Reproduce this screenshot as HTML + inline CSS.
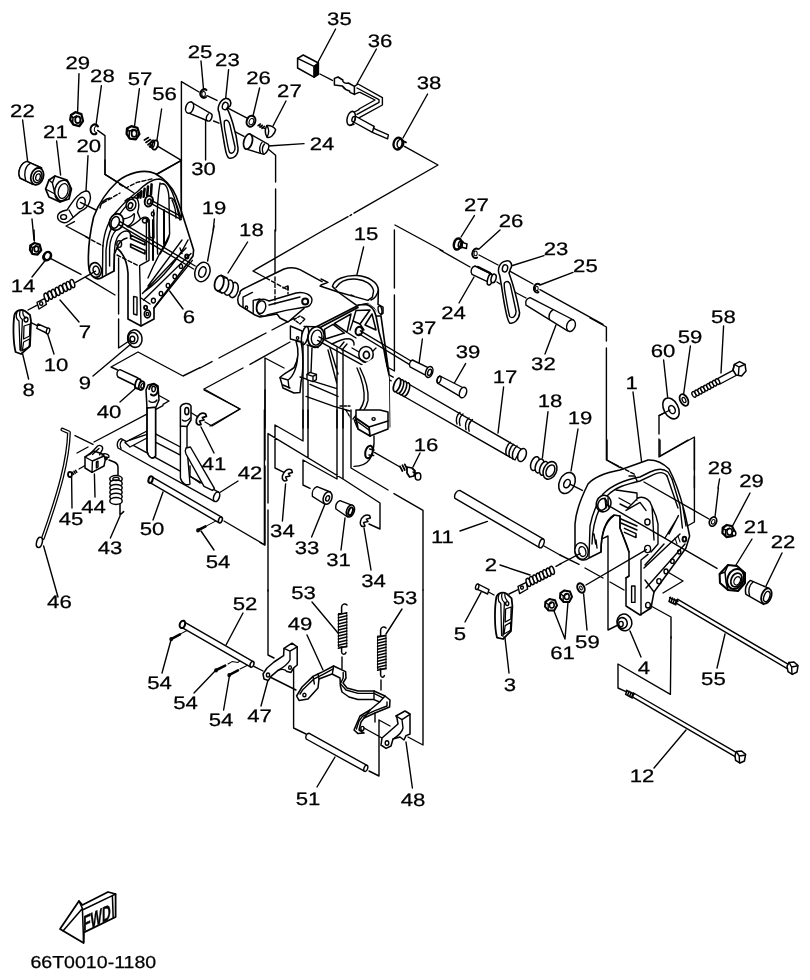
<!DOCTYPE html>
<html><head><meta charset="utf-8"><title>Parts diagram 66T0010-1180</title>
<style>
html,body{margin:0;padding:0;background:#fff}
svg{display:block;will-change:transform;filter:grayscale(1)}
text{-webkit-font-smoothing:antialiased;text-rendering:geometricPrecision;font-family:"Liberation Sans",sans-serif;font-size:18px;fill:#000;stroke:#000;stroke-width:0.25px;text-anchor:middle}
.w{fill:#fff} .k{fill:#000} .n{fill:none}
</style></head><body>
<svg width="810" height="980" viewBox="0 0 810 980" fill="none" stroke="#000" stroke-width="1.4" stroke-linecap="round" stroke-linejoin="round">
<rect x="0" y="0" width="810" height="980" fill="#fff" stroke="none"/>
<g transform="translate(0,40) scale(0.20000)" stroke-width="7.00"><!-- labels -->
<text transform="translate(389.0,144.0) scale(6.150,5)">29</text><text transform="translate(512.0,209.0) scale(6.150,5)">28</text><text transform="translate(700.0,226.0) scale(6.150,5)">57</text>
<text transform="translate(112.0,386.0) scale(6.150,5)">22</text><text transform="translate(277.0,491.0) scale(6.150,5)">21</text><text transform="translate(444.0,562.0) scale(6.150,5)">20</text><text transform="translate(163.0,869.0) scale(6.150,5)">13</text>
<text transform="translate(823.0,299.0) scale(6.150,5)">56</text>
<!-- leaders -->
<path d="M395 168L388 360M507 228L480 425M697 243L672 435M808 345L785 500M113 400L138 605M283 505L303 675M440 578L430 755M160 895L170 1000"/>
<!-- 29 nut -->
<g transform="translate(385,397)"><path class="w" d="M-30 -22L-8 -36L22 -26L30 8L12 34L-18 26L-34 2Z" stroke-width="11.45"/><ellipse cx="4" cy="2" rx="13" ry="17" stroke-width="8.91"/><path d="M-30 -20L-20 -8L-22 22M-20 -8L-2 -18" stroke-width="7.64"/></g>
<!-- 57 nut -->
<g transform="translate(665,465)"><path class="w" d="M-30 -22L-8 -34L22 -26L32 6L14 32L-16 28L-32 4Z" stroke-width="11.45"/><ellipse cx="6" cy="2" rx="13" ry="17" stroke-width="8.91"/><path d="M-30 -20L-18 -8L-20 24M-18 -8L0 -18" stroke-width="7.64"/></g>
<!-- 28 washer -->
<path d="M490 432A20 25 10 1 0 482 468" stroke-width="10.18"/><path d="M490 432A12 16 10 1 0 484 462" stroke-width="5.09"/>
<!-- line from 28 -->
<path d="M488 452L525 478L525 672L592 714"/>
<!-- 56 screw -->
<path d="M722 500L742 488M730 512L752 498M740 524L760 508M748 534L764 522" stroke-width="8.91"/>
<ellipse cx="775" cy="525" rx="14" ry="24" transform="rotate(15 775 525)" class="w" stroke-width="8.91"/>
<ellipse cx="762" cy="520" rx="10" ry="20" transform="rotate(15 762 520)" stroke-width="6.36"/>
<!-- 22 bushing -->
<path class="w" d="M135 607L208 640M100 690L165 722M135 607C105 615 85 655 100 690"/>
<path class="w" d="M135 607L208 640L165 722L100 690C85 655 105 615 135 607Z"/>
<ellipse cx="186" cy="682" rx="31" ry="43" transform="rotate(18 186 682)" class="w" stroke-width="8.91"/>
<ellipse cx="188" cy="684" rx="21" ry="30" transform="rotate(18 188 684)" stroke-width="7.64"/>
<ellipse cx="190" cy="686" rx="11" ry="17" transform="rotate(18 190 686)" stroke-width="6.36"/>
<path d="M150 618C125 632 118 670 128 700"/>
<!-- 21 nut -->
<path class="w" d="M275 680L335 700L357 745L345 795L300 810L245 785L228 745L245 700Z" stroke-width="8.91"/>
<ellipse cx="312" cy="752" rx="38" ry="52" transform="rotate(15 312 752)" stroke-width="7.64"/>
<ellipse cx="316" cy="755" rx="24" ry="38" transform="rotate(15 316 755)" stroke-width="6.36"/>
<path d="M275 680L262 715L275 770L300 810M245 700L262 715M228 745L275 770"/>
<!-- 20 bracket -->
<path class="w" d="M425 756C450 750 458 780 448 810C440 835 420 850 400 858L345 905C320 925 285 905 288 880C290 862 310 855 335 850C350 830 380 770 425 756Z"/>
<ellipse cx="405" cy="815" rx="20" ry="30" transform="rotate(20 405 815)"/>
<ellipse cx="318" cy="885" rx="15" ry="12"/>
<path d="M345 850L365 885"/>
<path d="M402 812L480 850M372 908L330 930L440 988"/>
</g>
<g transform="translate(150,30) scale(0.20000)" stroke-width="7.00"><text transform="translate(250.0,139.0) scale(6.150,5)">25</text><text transform="translate(387.0,182.0) scale(6.150,5)">23</text><text transform="translate(543.0,269.0) scale(6.150,5)">26</text><text transform="translate(697.0,336.0) scale(6.150,5)">27</text>
<text transform="translate(268.0,724.0) scale(6.150,5)">30</text><text transform="translate(320.0,922.0) scale(6.150,5)">19</text>
<path d="M255 155L268 300M393 198L378 345M548 290L515 430M680 355L615 480M278 440L278 650M322 945L316 1000M590 580L770 568"/>
<!-- frame lines -->
<path d="M157 258L157 940M157 258L245 310M285 328L335 352M385 388L488 442M40 582L157 652L30 722M318 455L345 466M400 496L470 532M592 596L628 626L628 760M628 795L628 1005"/>
<!-- 25 washer -->
<path d="M282 300A18 22 10 1 0 280 335" stroke-width="10.18"/><ellipse cx="268" cy="320" rx="9" ry="12" stroke-width="5.09"/>
<!-- 30 pin -->
<path class="w" d="M205 360L305 418C318 425 305 460 290 455L192 414Z"/>
<ellipse class="w" cx="198" cy="388" rx="19" ry="29" transform="rotate(18 198 388)" stroke-width="7.64"/>
<path d="M292 420C282 428 278 445 284 452"/>
<!-- 23 link -->
<path class="w" d="M378 342C400 340 408 360 402 378L385 392C400 420 430 500 440 590C442 625 420 645 395 640C380 635 378 600 370 560C362 510 352 450 345 410C335 395 345 350 378 342Z" stroke-width="7.64"/>
<ellipse cx="376" cy="380" rx="14" ry="19" transform="rotate(15 376 380)"/>
<path d="M372 455C385 445 395 455 400 475L425 585C428 610 410 622 398 612C392 600 385 560 380 530C374 500 368 475 372 455Z"/>
<!-- 26 washer -->
<ellipse cx="505" cy="456" rx="21" ry="28" transform="rotate(20 505 456)" stroke-width="10.18"/><ellipse cx="507" cy="458" rx="11" ry="16" transform="rotate(20 507 458)" stroke-width="5.09"/>
<!-- 27 screw -->
<path d="M540 478L552 470M550 486L562 476M560 492L572 482" stroke-width="7.64"/><path d="M545 478L580 496"/>
<path class="w" d="M585 478C575 490 572 515 585 535C600 545 625 520 628 498C620 485 600 475 585 478Z" stroke-width="7.64"/>
<path d="M585 478C595 495 598 515 585 535"/>
<!-- 24 bushing -->
<path class="w" d="M500 520L592 572C600 585 585 615 570 622L482 596Z"/>
<ellipse class="w" cx="490" cy="558" rx="21" ry="39" transform="rotate(15 490 558)" stroke-width="8.91"/>
<path d="M560 562C548 575 545 600 552 615M572 570C562 582 560 602 566 618" />
</g>
<g transform="translate(290,0) scale(0.20000)" stroke-width="7.00"><text transform="translate(247.0,124.0) scale(6.150,5)">35</text><text transform="translate(450.0,234.0) scale(6.150,5)">36</text><text transform="translate(695.0,444.0) scale(6.150,5)">38</text><text transform="translate(160.0,749.0) scale(6.150,5)">24</text>
<path d="M228 145L135 320M432 245L335 420M688 470L565 690"/>
<path d="M150 370L212 402M572 732L740 825L320 1066M290 1083L170 1150M300 1078L308 1073"/>
<!-- 35 box -->
<path class="w" d="M38 292L66 275L142 315L142 372L120 386L38 340Z" stroke-width="7.64"/>
<path d="M38 292L120 332L142 315M120 332L120 386" stroke-width="7.64"/>
<path class="k" d="M122 333L141 318L141 371L122 384Z"/>
<!-- 36 lever -->
<path class="w" d="M222 392L240 385L264 400C262 410 275 420 292 415L322 432L322 472L300 462L298 455C285 452 270 442 262 430L222 425Z" stroke-width="7.64"/>
<path d="M322 432L340 420L462 488L462 525L340 592M322 472L345 462M335 440L445 498L445 512L335 572M350 462L425 500L345 545"/>
<path class="w" d="M325 580L420 632L418 642L492 674L488 694L412 662L318 610Z"/>
<path d="M420 632L412 662"/>
<ellipse class="w" cx="306" cy="592" rx="20" ry="36" transform="rotate(15 306 592)" stroke-width="7.64"/>
<path d="M322 560L345 548M300 626L320 622"/>
<ellipse cx="318" cy="596" rx="8" ry="14" transform="rotate(15 318 596)"/>
<!-- 38 -->
<ellipse cx="540" cy="718" rx="22" ry="30" transform="rotate(15 540 718)" stroke-width="11.45"/>
<ellipse cx="552" cy="718" rx="16" ry="22" transform="rotate(15 552 718)" stroke-width="7.64"/>
<path d="M565 705L580 712" stroke-width="8.91"/>
</g>
<g transform="translate(60,160) scale(0.20000)" stroke-width="7.00"><text transform="translate(645.0,814.0) scale(6.150,5)">6</text><text transform="translate(125.0,889.0) scale(6.150,5)">7</text>
<path d="M770 330L738 505M615 745L548 655M95 810L0 700"/>
<!-- 19 washer -->
<ellipse class="w" cx="712" cy="560" rx="37" ry="50" transform="rotate(20 712 560)" stroke-width="7.64"/>
<ellipse cx="712" cy="560" rx="17" ry="27" transform="rotate(20 712 560)" stroke-width="7.64"/>
<!-- bracket 6 silhouette fill -->
<path class="w" d="M143 530C138 450 146 380 168 285C190 225 225 165 290 105C340 65 420 42 475 68C525 95 560 135 580 180C610 260 640 360 668 450L665 480L470 740L470 795L405 830L340 795L340 565C335 500 315 465 285 440L272 470L270 555L205 590C185 602 150 590 143 530Z" stroke-width="8.27"/>
<!-- rims -->
<path d="M212 588L214 440C218 370 240 300 290 250C320 215 350 185 385 160C420 125 460 95 495 95C530 100 555 140 570 185C585 230 595 260 605 290"/>
<path d="M230 570L230 450C235 390 250 340 285 290C320 240 360 190 400 160M248 530L248 440C250 400 262 370 282 348"/>
<path d="M200 240C205 215 225 195 250 190" />
<!-- fins -->
<path d="M392 170L388 190M407 156L402 188M423 144L418 184M440 133L436 178M458 122L455 172" stroke-width="12.73"/>
<!-- hidden dashed -->
<path d="M215 215L300 165M298 122L330 140L385 112L470 92M130 385L215 430M285 475L395 530" stroke-dasharray="20 11"/>
<path d="M225 0L225 72L290 112L370 165"/>
<!-- inner opening arch -->
<path d="M270 555L272 470C272 410 290 368 320 357C345 350 352 362 354 382M285 440C295 410 312 395 335 390"/>
<!-- holes -->
<ellipse class="w" cx="282" cy="310" rx="34" ry="42" transform="rotate(20 282 310)" stroke-width="8.91"/><ellipse cx="276" cy="312" rx="20" ry="30" transform="rotate(20 276 312)" stroke-width="7.64"/>
<ellipse class="w" cx="355" cy="225" rx="24" ry="29" transform="rotate(20 355 225)" stroke-width="7.64"/><ellipse cx="352" cy="228" rx="11" ry="15" transform="rotate(20 352 228)" stroke-width="7.64"/>
<path d="M325 205C340 185 370 185 385 192C395 210 395 240 388 262"/>
<ellipse class="w" cx="444" cy="206" rx="20" ry="27" transform="rotate(15 444 206)" stroke-width="10.18"/><ellipse cx="446" cy="208" rx="9" ry="13" transform="rotate(15 446 208)" stroke-width="7.64"/>
<ellipse cx="425" cy="303" rx="13" ry="12"/><ellipse cx="464" cy="270" rx="7" ry="10"/>
<ellipse cx="295" cy="822" rx="0" ry="0"/>
<ellipse cx="296" cy="420" rx="12" ry="17"/>
<ellipse class="w" cx="177" cy="550" rx="30" ry="37" transform="rotate(-15 177 550)" stroke-width="8.27"/><ellipse cx="181" cy="552" rx="15" ry="22" transform="rotate(-15 181 552)" stroke-width="7.64"/>
<!-- Y ribs on face -->
<path d="M318 295C340 290 360 285 368 270C375 262 372 285 368 300C360 320 345 328 335 332M340 335C375 325 395 300 410 290C420 282 440 285 445 300M388 262L400 290M445 300L448 380C450 390 458 392 462 385"/>
<!-- slots -->
<path d="M353 375L425 410L425 425L353 392ZM353 420L425 452L425 470L353 435Z" stroke-width="8.27"/>
<!-- leg -->
<path d="M405 830L398 528L445 502L445 300M405 690L450 720M368 682L385 686L385 775L368 770Z"/>
<!-- web right -->
<path d="M432 300L432 500M500 115C485 200 482 330 488 470M505 120C530 110 545 150 545 200L548 370C545 400 520 440 500 470M545 195C560 180 575 200 585 240L600 300M560 200C575 230 580 260 580 290M548 370C530 420 490 470 440 590M640 400C600 480 520 590 420 660M610 400L440 630M600 440L610 468M412 668L630 440M468 250L470 390" />
<path d="M465 300L465 500M520 250L520 420" stroke-width="10.18"/>
<!-- bottom rail -->
<path d="M418 700L655 468M470 740L662 502"/>
<ellipse cx="467" cy="703" rx="10" ry="12"/><ellipse cx="505" cy="668" rx="9" ry="11"/><ellipse cx="540" cy="628" rx="9" ry="11"/><ellipse cx="574" cy="582" rx="9" ry="11"/><ellipse cx="605" cy="532" rx="8" ry="10"/><ellipse cx="634" cy="482" rx="8" ry="10" stroke-width="10.18"/>
<ellipse cx="437" cy="770" rx="15" ry="19" stroke-width="8.91"/><ellipse cx="437" cy="770" rx="6" ry="8"/><ellipse cx="428" cy="737" rx="8" ry="9" stroke-width="8.91"/>
<!-- axis lines -->
<path d="M605 0L607 290M607 2L485 72M457 202L608 283M452 216L606 298M300 308L676 530M292 322L668 545M293 490L293 770M293 795L293 940L345 905"/>
<!-- 9 grommet -->
<ellipse class="w" cx="374" cy="893" rx="36" ry="44" transform="rotate(-10 374 893)" stroke-width="7.64"/>
<ellipse class="w" cx="366" cy="890" rx="24" ry="28" transform="rotate(-10 366 890)" stroke-width="7.64"/>
<ellipse cx="362" cy="895" rx="12" ry="14"/>
</g>
<g transform="translate(0,230) scale(0.20000)" stroke-width="7.00"><text transform="translate(115.0,309.0) scale(6.150,5)">14</text><text transform="translate(280.0,704.0) scale(6.150,5)">10</text><text transform="translate(143.0,829.0) scale(6.150,5)">8</text><text transform="translate(425.0,794.0) scale(6.150,5)">9</text><text transform="translate(545.0,939.0) scale(6.150,5)">40</text>
<path d="M160 235L228 150M270 620L238 520M143 745L112 615M465 730L655 570M600 860L690 780M170 0L172 55"/>
<!-- 13 nut -->
<g transform="translate(178,95)"><path class="w" d="M-26 -18L-6 -30L20 -22L28 6L10 28L-16 24L-28 4Z" stroke-width="11.45"/><ellipse cx="4" cy="0" rx="11" ry="14" stroke-width="8.91"/><path d="M-26 -16L-16 -6L-18 20M-16 -6L0 -16" stroke-width="7.64"/></g>
<!-- 14 washer -->
<ellipse cx="237" cy="130" rx="17" ry="21" transform="rotate(25 237 130)" stroke-width="12.73"/><path d="M222 120A14 17 25 0 0 240 150" stroke-width="5.09"/>
<!-- lines -->
<path d="M252 142L405 222M430 238L575 325M378 262L478 206M140 400L186 376M132 452L186 478M555 685L588 700M555 685L690 610L915 730L1000 688"/>
<!-- spring 7 -->
<path class="w" d="M185 362L225 342L232 372L195 395Z"/><ellipse cx="206" cy="368" rx="8" ry="9"/>
<ellipse class="w" cx="232" cy="336" rx="10" ry="21" transform="rotate(-18 232 336)" stroke-width="7.64"/><ellipse class="w" cx="251" cy="326" rx="10" ry="21" transform="rotate(-18 251 326)" stroke-width="7.64"/><ellipse class="w" cx="269" cy="317" rx="10" ry="21" transform="rotate(-18 269 317)" stroke-width="7.64"/><ellipse class="w" cx="288" cy="307" rx="10" ry="21" transform="rotate(-18 288 307)" stroke-width="7.64"/><ellipse class="w" cx="306" cy="297" rx="10" ry="21" transform="rotate(-18 306 297)" stroke-width="7.64"/><ellipse class="w" cx="325" cy="287" rx="10" ry="21" transform="rotate(-18 325 287)" stroke-width="7.64"/><ellipse class="w" cx="343" cy="278" rx="10" ry="21" transform="rotate(-18 343 278)" stroke-width="7.64"/><ellipse class="w" cx="362" cy="268" rx="10" ry="21" transform="rotate(-18 362 268)" stroke-width="7.64"/>
<!-- 8 -->
<path class="w" d="M72 425C80 400 105 395 125 405L150 425L155 455L150 580L105 620L78 610C65 560 65 470 72 425Z" stroke-width="8.91"/>
<path d="M85 410C78 430 80 445 95 455L100 600M100 405C95 425 100 440 112 448M115 402C112 420 118 432 128 440M112 448L105 605M120 480L150 470L148 530L118 545ZM118 560L148 545L146 585L112 602Z" stroke-width="6.36"/>
<ellipse cx="130" cy="448" rx="10" ry="12"/>
<!-- 10 pin -->
<path class="w" d="M190 470L240 492L232 515L184 492Z"/><ellipse class="w" cx="240" cy="505" rx="8" ry="15" transform="rotate(15 240 505)"/>
<!-- 40 pin -->
<path class="w" d="M600 698L690 740L690 760L720 775L705 800L675 790L672 775L590 735C580 720 585 700 600 698Z"/>
<ellipse class="w" cx="690" cy="768" rx="13" ry="24" transform="rotate(15 690 768)" stroke-width="8.91"/>
<ellipse class="w" cx="708" cy="778" rx="13" ry="22" transform="rotate(15 708 778)" stroke-width="8.91"/>
<ellipse cx="712" cy="780" rx="7" ry="12" transform="rotate(15 712 780)"/>
</g>
<g transform="translate(200,230) scale(0.20000)" stroke-width="7.00"><text transform="translate(257.0,32.0) scale(6.150,5)">18</text>
<path d="M238 60L140 215"/>
<!-- 18 bushing -->
<path class="w" d="M100 228L175 262L165 338L88 303Z" stroke="none"/>
<ellipse class="w" cx="168" cy="300" rx="22" ry="39" transform="rotate(15 168 300)" stroke-width="7.64"/>
<ellipse class="w" cx="143" cy="288" rx="22" ry="39" transform="rotate(15 143 288)" stroke-width="7.64"/>
<ellipse class="w" cx="120" cy="277" rx="22" ry="39" transform="rotate(15 120 277)" stroke-width="7.64"/>
<ellipse class="w" cx="96" cy="266" rx="22" ry="39" transform="rotate(15 96 266)" stroke-width="8.91"/>
<path d="M105 226L135 240M88 305L110 315"/>
<!-- lines -->
<path d="M265 205L620 0M265 205L330 240M375 0L375 235M0 690L60 658M95 640L330 515M360 500L470 442M20 795L215 690M250 672L450 560M20 795L200 895L50 980M325 640L325 990M325 640L420 690"/>
<!-- 15 arm -->
<path class="w" d="M200 318C195 300 215 295 230 288L420 195C450 185 480 188 500 198L660 285L640 330L560 350L520 392L440 460L400 440L385 420L300 435L275 425L200 378C185 365 185 335 200 318Z" stroke="none"/>
<path d="M610 258L500 198C480 188 450 185 420 195L230 288C215 295 195 300 200 318C185 335 185 365 200 378L275 425L300 435L385 420L400 440L440 460L520 392" stroke-width="7.64"/>
<path d="M215 336L262 312M215 336L215 385M266 352L266 418M266 352L300 345"/>
<ellipse cx="232" cy="388" rx="6" ry="8"/>
<path class="w" d="M300 350C320 340 335 352 345 355L480 315C520 305 560 325 560 350C560 375 540 388 520 386L430 402L335 425C310 440 280 420 282 385C283 370 290 355 300 350Z"/>
<ellipse cx="306" cy="386" rx="22" ry="32" transform="rotate(15 306 386)"/>
<ellipse cx="526" cy="358" rx="15" ry="15" stroke-width="10.18"/>
<path d="M345 375L500 335"/>
<path d="M470 448L500 430L525 445L500 470ZM440 300L440 280L415 290" stroke-dasharray="14 8"/>
<path d="M330 240L440 300M375 235L375 370M440 280L440 320" stroke-dasharray="20 12"/>
<!-- bracket left block and hook -->
<path class="w" d="M452 480L510 505L510 560L452 545Z"/><ellipse cx="488" cy="540" rx="6" ry="7"/>
<path class="w" d="M480 555C495 600 492 650 470 688C450 705 420 715 400 738L415 790L470 815L500 812L505 760C520 700 515 600 505 560Z" stroke-width="7.64"/>
<path d="M400 738L440 750L445 790M440 750C470 730 485 680 488 640M415 775L450 790"/>
</g>
<g transform="translate(280,230) scale(0.20000)" stroke-width="7.00"><text transform="translate(430.0,49.0) scale(6.150,5)">15</text><text transform="translate(720.0,519.0) scale(6.150,5)">37</text>
<path d="M418 85L385 222M712 545L695 668"/>
<!-- frame lines -->
<path d="M572 0L572 290M572 325L572 705L442 632M575 -25L815 105"/>
<!-- top ring -->
<path class="w" d="M262 282C270 245 330 225 385 228C440 232 490 260 492 300L490 372L515 386L515 416L495 432L470 392L440 368L385 378L290 310Z" stroke-width="7.64"/>
<path d="M280 288C300 255 340 242 385 246C425 250 462 272 468 305L462 335M492 300C485 330 470 345 455 350M200 280C230 290 260 300 290 310L440 352M205 275L240 262L205 245M355 325L372 332M440 352L462 335"/>
<ellipse cx="500" cy="400" rx="9" ry="20" transform="rotate(-10 500 400)"/>
<!-- body fill -->
<path class="w" d="M150 490L385 378L445 368L470 392L505 430L548 720L548 990L120 990L120 560Z" stroke="none"/>
<!-- triangular web -->
<path d="M180 485L395 375L430 372C450 376 470 392 480 430L495 510L520 600L545 740L548 985M205 485L390 387M505 430L545 720M480 430L505 430" stroke-width="8.27"/>
<path d="M222 497L265 472L322 515L227 545ZM272 467L355 420L335 512ZM380 402L450 400L400 470L365 455ZM460 420L480 500L425 475Z" stroke-width="7.64"/>
<path d="M260 570C290 555 330 540 350 545C365 550 372 560 370 575M300 585L320 560M310 600L335 570M365 455L350 500M400 470L420 500M340 515L380 540"/>
<!-- holes -->
<ellipse class="w" cx="125" cy="528" rx="16" ry="46" transform="rotate(12 125 528)" stroke-width="7.64"/>
<ellipse class="w" cx="180" cy="535" rx="40" ry="52" transform="rotate(12 180 535)" stroke-width="8.91"/>
<ellipse cx="183" cy="538" rx="26" ry="38" transform="rotate(12 183 538)"/>
<path d="M120 482L175 484M135 575L190 588"/>
<ellipse class="w" cx="395" cy="505" rx="17" ry="21" transform="rotate(15 395 505)" stroke-width="10.18"/>
<ellipse class="w" cx="430" cy="622" rx="36" ry="40" stroke-width="7.64"/><ellipse cx="432" cy="625" rx="15" ry="18" stroke-width="8.91"/>
<path d="M395 610L360 590M465 605L480 590"/>
<!-- axis lines -->
<path d="M195 534L566 736M188 552L556 754M402 504L655 655M396 520L646 672"/>
<!-- 37 pin -->
<path class="w" d="M662 650L748 692L732 728L650 684C645 670 650 655 662 650Z"/>
<ellipse class="w" cx="746" cy="710" rx="17" ry="28" transform="rotate(20 746 710)" stroke-width="7.64"/><ellipse cx="748" cy="712" rx="9" ry="16" transform="rotate(20 748 712)"/>
<!-- lower body -->
<path d="M115 560L115 990M140 580L140 990M285 590L285 990M315 600L315 990M100 735L140 748L280 792M150 772L290 832M130 832L270 882L350 905M240 600L285 770M250 590L290 720"/>
<path class="w" d="M135 722L150 712L182 722L182 748L165 758L135 748Z"/><path d="M135 722L165 732L182 722M165 732L165 758"/>
<path d="M160 590L155 712"/>
<!-- right hook -->
<path class="w" d="M385 690C410 740 425 800 420 850C410 890 385 920 365 950L385 990L548 990L545 740L520 640L470 640Z" stroke="none"/>
<path d="M400 690C430 750 445 800 440 852C430 900 400 930 372 952L385 985M385 690C412 750 425 800 420 850C412 890 390 915 365 945M375 950L440 985"/>
<ellipse cx="468" cy="945" rx="8" ry="6"/>
<path d="M300 880L350 880M330 900L350 935" stroke-dasharray="12 8"/>
</g>
<g transform="translate(440,180) scale(0.20000)" stroke-width="7.00"><text transform="translate(182.0,154.0) scale(6.150,5)">27</text><text transform="translate(355.0,234.0) scale(6.150,5)">26</text><text transform="translate(580.0,376.0) scale(6.150,5)">23</text><text transform="translate(727.0,459.0) scale(6.150,5)">25</text><text transform="translate(68.0,696.0) scale(6.150,5)">24</text><text transform="translate(140.0,892.0) scale(6.150,5)">39</text><text transform="translate(517.0,949.0) scale(6.150,5)">32</text>
<path d="M172 178L105 285M300 250L195 345M520 378L355 430M665 462L500 525M95 615L170 485M525 870L580 725"/>
<path d="M0 350L150 435M195 375L290 425M342 452L465 520M500 548L815 722M285 510L300 520M345 545L430 590"/>
<!-- 27 screw -->
<ellipse cx="88" cy="320" rx="18" ry="28" transform="rotate(15 88 320)" stroke-width="12.73"/><ellipse cx="104" cy="322" rx="12" ry="18" transform="rotate(15 104 322)" stroke-width="7.64"/>
<path class="w" d="M112 312L135 320L132 342L110 336Z" stroke-width="7.64"/>
<!-- 26 washer -->
<path d="M190 345A18 24 15 1 0 185 388" stroke-width="10.18"/><ellipse cx="178" cy="367" rx="8" ry="12" stroke-width="5.09"/>
<!-- 24 bushing -->
<path class="w" d="M175 430L258 470L245 512L160 472C150 455 158 435 175 430Z"/>
<path d="M190 435L250 465" stroke-width="11.45"/>
<ellipse class="w" cx="250" cy="498" rx="12" ry="28" transform="rotate(15 250 498)" stroke-width="7.64"/>
<ellipse class="w" cx="268" cy="492" rx="12" ry="22" transform="rotate(15 268 492)" stroke-width="7.64"/>
<!-- 23 link -->
<path class="w" d="M330 405C355 400 365 425 352 445L345 465C365 520 390 620 398 665C395 700 370 720 348 715C335 700 330 660 320 610C312 560 305 510 298 475C285 450 295 410 330 405Z" stroke-width="7.64"/>
<ellipse cx="325" cy="442" rx="13" ry="18" transform="rotate(15 325 442)"/>
<path d="M322 515C335 500 348 510 352 525L380 655C382 685 360 695 348 682C340 650 335 620 330 590C325 560 318 535 322 515Z"/>
<!-- 25 washer -->
<path d="M498 522A17 22 15 1 0 492 560" stroke-width="10.18"/><ellipse cx="484" cy="542" rx="7" ry="11" stroke-width="5.09"/>
<!-- 32 pin -->
<path class="w" d="M450 588L668 700L638 754L430 626C425 605 435 592 450 588Z"/>
<ellipse class="w" cx="655" cy="728" rx="21" ry="30" transform="rotate(20 655 728)"/>
<path d="M565 648C548 660 542 680 548 698"/>
</g>
<g transform="translate(420,330) scale(0.20000)" stroke-width="7.00"><text transform="translate(112.0,1064.0) scale(6.150,5)">11</text>
<text transform="translate(425.0,266.0) scale(6.150,5)">17</text><text transform="translate(650.0,384.0) scale(6.150,5)">18</text><text transform="translate(800.0,469.0) scale(6.150,5)">19</text>
<path d="M228 168L172 265M418 285L390 515M640 408L612 640M790 495L755 705"/>
<!-- 39 pin -->
<path class="w" d="M100 230L218 290L200 332L88 266C82 250 88 235 100 230Z"/>
<ellipse cx="95" cy="248" rx="9" ry="17" transform="rotate(20 95 248)"/>
<ellipse class="w" cx="215" cy="313" rx="17" ry="27" transform="rotate(20 215 313)" stroke-width="7.64"/>
<!-- 17 tube -->
<path class="w" d="M-100 245L505 595L475 650L-110 315Z"/>
<ellipse class="w" cx="-70" cy="298" rx="15" ry="36" transform="rotate(20 -70 298)" stroke-width="7.64"/>
<ellipse class="w" cx="-85" cy="290" rx="15" ry="36" transform="rotate(20 -85 290)" stroke-width="7.64"/>
<ellipse class="w" cx="-100" cy="283" rx="15" ry="36" transform="rotate(20 -100 283)" stroke-width="7.64"/>
<ellipse class="w" cx="-115" cy="275" rx="15" ry="36" transform="rotate(20 -115 275)" stroke-width="8.91"/>
<path d="M200 412C182 425 178 450 185 470M215 420C198 434 194 458 200 478M245 440C228 452 224 478 230 498M262 448C245 462 240 486 246 506"/>
<path d="M452 562C432 575 425 605 432 625M468 572C448 585 441 615 448 635M485 580C465 595 458 622 465 645" stroke-width="7.64"/>
<ellipse class="w" cx="510" cy="625" rx="20" ry="34" transform="rotate(20 510 625)" stroke-width="7.64"/>
<!-- 18 bushing -->
<ellipse class="w" cx="575" cy="668" rx="20" ry="36" transform="rotate(20 575 668)" stroke-width="7.64"/>
<ellipse class="w" cx="598" cy="680" rx="20" ry="36" transform="rotate(20 598 680)" stroke-width="7.64"/>
<ellipse class="w" cx="620" cy="692" rx="20" ry="36" transform="rotate(20 620 692)" stroke-width="7.64"/>
<ellipse class="w" cx="650" cy="702" rx="32" ry="46" transform="rotate(25 650 702)" stroke-width="7.64"/>
<ellipse cx="652" cy="704" rx="20" ry="31" transform="rotate(25 652 704)" stroke-width="7.64"/>
<!-- 19 washer -->
<ellipse class="w" cx="735" cy="765" rx="38" ry="55" transform="rotate(25 735 765)" stroke-width="7.64"/>
<ellipse cx="735" cy="768" rx="15" ry="22" transform="rotate(25 735 768)" stroke-width="7.64"/>
<path d="M752 772L812 802"/>
<!-- 11 rod -->
<path class="w" d="M199 802L618 1046L598 1088L175 842C168 825 182 802 199 802Z"/>
<path d="M200 1005L337 957"/>
<ellipse class="w" cx="608" cy="1067" rx="11" ry="23" transform="rotate(20 608 1067)"/>
</g>
<g transform="translate(590,290) scale(0.20000)" stroke-width="7.00"><text transform="translate(667.0,164.0) scale(6.150,5)">58</text><text transform="translate(500.0,264.0) scale(6.150,5)">59</text><text transform="translate(365.0,337.0) scale(6.150,5)">60</text><text transform="translate(208.0,494.0) scale(6.150,5)">1</text><text transform="translate(650.0,922.0) scale(6.150,5)">28</text>
<path d="M668 180L655 415M502 280L468 520M368 350L388 535M215 510L258 860M648 945L640 990"/>
<path d="M0 140L82 185L82 255M82 290L82 850L150 888M345 628L400 600M345 628L345 720M345 745L345 835L522 735L522 900M522 930L522 990"/>
<path d="M170 900L235 932" stroke-dasharray="20 10"/>
<!-- 60 -->
<ellipse class="w" cx="405" cy="592" rx="36" ry="56" transform="rotate(-28 405 592)" stroke-width="7.64"/>
<ellipse cx="410" cy="598" rx="15" ry="21" transform="rotate(-28 410 598)" stroke-width="7.64"/>
<path d="M345 628L400 600"/>
<!-- 59 -->
<ellipse class="w" cx="470" cy="550" rx="19" ry="31" transform="rotate(-28 470 550)" stroke-width="8.91"/>
<ellipse cx="470" cy="550" rx="8" ry="14" transform="rotate(-28 470 550)" stroke-width="6.36"/>
<!-- 58 bolt -->
<path class="w" d="M640 442L722 398L735 425L650 470Z"/>
<ellipse class="w" cx="520" cy="522" rx="9" ry="15" transform="rotate(-28 520 522)"/><ellipse class="w" cx="535" cy="514" rx="9" ry="15" transform="rotate(-28 535 514)"/><ellipse class="w" cx="550" cy="506" rx="9" ry="15" transform="rotate(-28 550 506)"/><ellipse class="w" cx="564" cy="498" rx="9" ry="15" transform="rotate(-28 564 498)"/><ellipse class="w" cx="579" cy="490" rx="9" ry="15" transform="rotate(-28 579 490)"/><ellipse class="w" cx="594" cy="482" rx="9" ry="15" transform="rotate(-28 594 482)"/><ellipse class="w" cx="608" cy="474" rx="9" ry="15" transform="rotate(-28 608 474)"/><ellipse class="w" cx="623" cy="466" rx="9" ry="15" transform="rotate(-28 623 466)"/><ellipse class="w" cx="638" cy="458" rx="9" ry="15" transform="rotate(-28 638 458)"/>
<path class="w" d="M722 372L748 358L775 372L780 405L758 430L730 425L715 400Z" stroke-width="7.64"/>
<path d="M722 372L745 385L775 372M745 385L742 425M715 400L722 372"/>
</g>
<g transform="translate(560,440) scale(0.20000)" stroke-width="7.00"><!-- frame lines -->
<path d="M235 0L235 100L292 130M500 0L500 80L640 0M672 0L672 410L510 500M530 655L615 705L515 765M455 830L555 885L555 990M0 575L95 622M125 640L215 690M250 710L320 750M240 480L240 950L300 920M215 492L240 480"/>
<!-- bracket 1 silhouette -->
<path class="w" d="M75 560L75 420C78 370 95 310 140 220C170 185 220 165 300 150L440 100C480 98 520 120 545 145C585 220 620 340 640 440L648 480L630 540L470 760L455 840L400 875L330 830L330 690L345 680L345 560L300 440L300 380L270 375C230 400 205 450 205 560L145 590C120 610 80 600 75 560Z" stroke-width="7.64"/>
<!-- top band -->
<path d="M145 585L150 430C160 380 180 320 215 270C260 225 320 200 400 185L450 160C480 145 515 140 540 160L560 195M160 520C162 440 180 350 240 275C280 235 330 222 400 205L470 172C495 160 520 160 535 180M345 180L375 180L385 205M180 500L185 540M170 470L178 520"/>
<path d="M300 135L380 175" stroke-dasharray="20 10"/>
<!-- inner arch and leg -->
<path d="M205 560C205 470 225 410 270 378M300 380L300 440L332 520L345 560M405 875L405 600L440 572M345 680L330 690M358 730L375 730L375 812L358 812Z"/>
<path d="M280 250L385 265L385 300M300 320L340 340L390 290C410 280 435 290 450 310L480 380L490 420L490 520L455 560M330 352L400 312L430 352M295 290L350 320M460 330L470 500"/>
<path d="M305 395L385 430M305 415L385 450M322 442L380 468L380 488L322 462" stroke-width="7.64"/>
<!-- holes -->
<ellipse class="w" cx="218" cy="318" rx="36" ry="42" transform="rotate(20 218 318)" stroke-width="7.64"/>
<ellipse cx="212" cy="322" rx="22" ry="30" transform="rotate(20 212 322)" stroke-width="7.64"/>
<path d="M225 290L230 340M240 290L242 335"/>
<ellipse class="w" cx="108" cy="555" rx="33" ry="42" transform="rotate(-15 108 555)" stroke-width="7.64"/><ellipse cx="112" cy="558" rx="17" ry="25" transform="rotate(-15 112 558)"/>
<ellipse cx="437" cy="410" rx="13" ry="15"/><ellipse cx="438" cy="545" rx="15" ry="18"/><ellipse cx="440" cy="826" rx="12" ry="14"/>
<!-- web/rail -->
<path d="M420 640L600 470M425 700L470 760M430 740L625 520M545 470L592 378M525 490L580 400M425 625L520 520M600 330L612 440M615 340L630 430M560 195L600 330M535 180L590 340"/>
<ellipse cx="495" cy="706" rx="11" ry="13"/><ellipse cx="530" cy="657" rx="10" ry="12"/><ellipse cx="562" cy="606" rx="9" ry="11"/><ellipse cx="596" cy="560" rx="8" ry="10"/><ellipse cx="622" cy="496" rx="9" ry="12" stroke-width="10.18"/>
<path d="M575 490L585 520M590 480L600 510" stroke-width="5.09"/>
<!-- axis lines -->
<path d="M420 210L745 395M232 322L785 642M0 620L100 568M130 725L432 548"/>
<!-- 59 washer -->
<ellipse class="w" cx="105" cy="740" rx="17" ry="25" transform="rotate(-25 105 740)" stroke-width="10.18"/><ellipse cx="105" cy="740" rx="6" ry="10" transform="rotate(-25 105 740)" stroke-width="5.09"/>
<!-- 28 washer -->
<ellipse class="w" cx="765" cy="408" rx="17" ry="24" transform="rotate(25 765 408)" stroke-width="8.91"/><ellipse cx="766" cy="409" rx="8" ry="12" transform="rotate(25 766 409)" stroke-width="5.09"/>
<!-- 4 grommet -->
<ellipse class="w" cx="322" cy="912" rx="37" ry="42" transform="rotate(-15 322 912)" stroke-width="7.64"/>
<ellipse class="w" cx="312" cy="915" rx="24" ry="27" transform="rotate(-15 312 915)" stroke-width="7.64"/><ellipse cx="305" cy="920" rx="11" ry="13"/>
<!-- leaders -->
<path d="M118 770L135 950"/>
</g>
<g transform="translate(648,450) scale(0.20000)" stroke-width="7.00"><text transform="translate(518.0,186.0) scale(6.150,5)">29</text><text transform="translate(540.0,414.0) scale(6.150,5)">21</text><text transform="translate(675.0,491.0) scale(6.150,5)">22</text>
<path d="M352 190L335 335M510 215L420 385M520 445L440 575M670 515L590 680"/>
<!-- 29 nut -->
<g transform="translate(402,405)"><path class="w" d="M-28 -16L-8 -30L18 -24L30 0L20 26L-10 30L-30 10Z" stroke-width="11.45"/><ellipse cx="6" cy="4" rx="13" ry="16" stroke-width="7.64"/><path d="M-28 -14L-14 -4L-14 26M-14 -4L6 -14" stroke-width="7.64"/><ellipse class="w" cx="28" cy="12" rx="9" ry="12" stroke-width="7.64"/></g>
<!-- 21 nut -->
<path class="w" d="M400 575L445 580L485 615L485 665L450 705L400 700L360 665L358 620Z" stroke-width="10.18"/>
<ellipse cx="438" cy="645" rx="40" ry="52" transform="rotate(25 438 645)" stroke-width="10.18"/>
<ellipse cx="442" cy="650" rx="26" ry="36" transform="rotate(25 442 650)" stroke-width="8.91"/>
<ellipse cx="446" cy="654" rx="15" ry="22" transform="rotate(25 446 654)" stroke-width="6.36"/>
<path d="M400 575L385 610L390 660L400 700M358 620L385 610" stroke-width="7.64"/>
<!-- 22 bushing -->
<path class="w" d="M512 652L605 692L578 772L490 722C482 695 492 665 512 652Z" stroke-width="7.64"/>
<ellipse class="w" cx="592" cy="730" rx="24" ry="40" transform="rotate(20 592 730)" stroke-width="8.91"/>
<ellipse cx="594" cy="733" rx="14" ry="27" transform="rotate(20 594 733)"/>
<path d="M525 660C505 675 500 705 508 728"/>
</g>
<g transform="translate(600,580) scale(0.20000)" stroke-width="7.00"><text transform="translate(220.0,469.0) scale(6.150,5)">4</text><text transform="translate(567.0,524.0) scale(6.150,5)">55</text><text transform="translate(210.0,1009.0) scale(6.150,5)">12</text>
<path d="M205 385L150 255M585 440L625 270M430 750L270 940"/>
<path d="M355 285L352 572L90 420L90 540L130 558"/>
<!-- bolt 55 -->
<path class="w" d="M387 96L942 422L938 444L383 117Z"/>
<path d="M352 86L345 108M362 90L355 114M372 95L365 118M382 100L375 122M348 88L390 106M345 108L380 124" stroke-width="7.64"/>
<path class="w" d="M945 412L970 410L990 428L985 460L962 472L940 458L935 432Z" stroke-width="7.64"/>
<path d="M945 412L958 435L985 430M958 435L960 470"/>
<!-- bolt 12 -->
<path class="w" d="M168 565L685 864L680 886L164 586Z"/>
<path d="M135 552L128 572M145 556L138 578M155 562L148 584M165 566L158 588M132 552L172 570M128 572L162 590" stroke-width="7.64"/>
<path class="w" d="M682 858L708 855L728 872L722 905L700 915L678 902L675 878Z" stroke-width="7.64"/>
<path d="M682 858L696 880L722 876M696 880L698 914"/>
</g>
<g transform="translate(440,540) scale(0.20000)" stroke-width="7.00"><text transform="translate(255.0,154.0) scale(6.150,5)">2</text><text transform="translate(100.0,499.0) scale(6.150,5)">5</text><text transform="translate(350.0,754.0) scale(6.150,5)">3</text><text transform="translate(613.0,594.0) scale(6.150,5)">61</text><text transform="translate(737.0,539.0) scale(6.150,5)">59</text>
<path d="M300 125L450 175M125 410L205 262M345 665L325 490M625 495L570 355M625 495L640 310"/>
<path d="M520 30L600 75M580 132L605 118M345 270L390 248M215 245L270 275"/>
<!-- 61 nuts -->
<g transform="translate(555,325)"><path class="w" d="M-28 -16L-8 -30L20 -24L30 2L16 28L-12 28L-30 8Z" stroke-width="10.18"/><ellipse cx="4" cy="0" rx="12" ry="15" stroke-width="7.64"/><path d="M-28 -14L-14 -2L-14 26M-14 -2L6 -12" stroke-width="6.36"/></g>
<g transform="translate(630,282)"><path class="w" d="M-28 -16L-8 -30L20 -24L30 2L16 28L-12 28L-30 8Z" stroke-width="10.18"/><ellipse cx="4" cy="0" rx="12" ry="15" stroke-width="7.64"/><path d="M-28 -14L-14 -2L-14 26M-14 -2L6 -12" stroke-width="6.36"/></g>
<!-- spring 2 -->
<path class="w" d="M390 232L432 212L438 245L398 268Z"/><ellipse cx="410" cy="238" rx="7" ry="8"/>
<ellipse class="w" cx="442" cy="212" rx="10" ry="21" transform="rotate(-18 442 212)" stroke-width="7.64"/><ellipse class="w" cx="459" cy="203" rx="10" ry="21" transform="rotate(-18 459 203)" stroke-width="7.64"/><ellipse class="w" cx="476" cy="195" rx="10" ry="21" transform="rotate(-18 476 195)" stroke-width="7.64"/><ellipse class="w" cx="493" cy="186" rx="10" ry="21" transform="rotate(-18 493 186)" stroke-width="7.64"/><ellipse class="w" cx="509" cy="178" rx="10" ry="21" transform="rotate(-18 509 178)" stroke-width="7.64"/><ellipse class="w" cx="526" cy="169" rx="10" ry="21" transform="rotate(-18 526 169)" stroke-width="7.64"/><ellipse class="w" cx="543" cy="161" rx="10" ry="21" transform="rotate(-18 543 161)" stroke-width="7.64"/><ellipse class="w" cx="560" cy="152" rx="10" ry="21" transform="rotate(-18 560 152)" stroke-width="7.64"/>
<!-- 3 -->
<path class="w" d="M282 285C290 262 315 258 335 270L358 292L362 330L355 455L315 495L285 488C272 440 272 340 282 285Z" stroke-width="8.91"/>
<path d="M295 272C288 292 290 308 304 318L308 478M310 268C305 288 310 302 322 312M325 268C322 284 328 296 336 304M322 312L315 482M328 345L356 335L354 395L326 410ZM326 428L354 412L352 452L320 470Z" stroke-width="6.36"/>
<ellipse cx="336" cy="318" rx="8" ry="10"/>
<!-- 5 pin -->
<path class="w" d="M190 220L245 248L238 270L182 244Z"/><ellipse class="w" cx="186" cy="234" rx="8" ry="14" transform="rotate(15 186 234)"/>
</g>
<g transform="translate(260,410) scale(0.20000)" stroke-width="7.00"><text transform="translate(112.0,634.0) scale(6.150,5)">34</text><text transform="translate(235.0,719.0) scale(6.150,5)">33</text><text transform="translate(393.0,779.0) scale(6.150,5)">31</text><text transform="translate(568.0,884.0) scale(6.150,5)">34</text><text transform="translate(218.0,944.0) scale(6.150,5)">53</text><text transform="translate(725.0,972.0) scale(6.150,5)">53</text><text transform="translate(830.0,207.0) scale(6.150,5)">16</text>
<path d="M128 370L112 555M325 470L258 635M425 540L405 700M520 590L555 800M800 215L765 285"/>
<path d="M40 118L40 465M40 500L40 905M22 0L22 675L0 662M40 118L415 345L600 465L600 595L545 570M75 75L215 155L215 0M75 75L75 290L120 312M240 0L240 235M215 250L385 345L385 0M215 250L215 375L250 392M415 0L415 345M455 0L455 290L640 400M670 418L815 502L815 900M572 212L700 285"/>
<path d="M470 282C540 280 575 240 570 130"/>
<!-- 16 hole -->
<ellipse cx="545" cy="210" rx="18" ry="32" transform="rotate(15 545 210)" stroke-width="10.18"/><path d="M548 195L570 200M545 225L568 228" stroke-width="7.64"/>
<!-- 16 nipple -->
<path d="M700 282L712 305M712 276L724 300M724 272L736 296" stroke-width="8.91"/>
<path class="w" d="M735 285L760 290L775 305L770 330L748 335L735 315Z" stroke-width="8.91"/>
<ellipse class="w" cx="790" cy="332" rx="14" ry="18" stroke-width="7.64"/><path d="M765 310L785 318"/>
<!-- clips 34 -->
<path d="M158 300C140 290 118 305 112 330C108 350 120 360 135 352M135 352L128 335L150 330L142 318L162 312L158 300" stroke-width="7.64"/>
<path d="M548 528C530 518 508 533 502 558C498 578 510 588 525 580M525 580L518 563L540 558L532 546L552 540L548 528" stroke-width="7.64"/>
<!-- 33 -->
<path class="w" d="M285 383L352 410L322 470L262 432C258 410 268 390 285 383Z"/>
<ellipse class="w" cx="338" cy="440" rx="21" ry="32" transform="rotate(20 338 440)" stroke-width="7.64"/><ellipse cx="338" cy="442" rx="9" ry="14" transform="rotate(20 338 442)"/>
<!-- 31 -->
<path class="w" d="M400 453L465 478L438 535L380 495C375 475 385 458 400 453Z"/>
<ellipse class="w" cx="452" cy="505" rx="19" ry="31" transform="rotate(20 452 505)" stroke-width="7.64"/><ellipse cx="453" cy="507" rx="10" ry="20" transform="rotate(20 453 507)" stroke-width="10.18"/>
<!-- 15 foot -->
<path class="w" d="M480 40L545 85L550 130L490 95Z" stroke-width="8.91"/><path class="w" d="M545 85L640 55L640 10L600 0L480 0L480 40Z" stroke-width="7.64"/>
<path d="M550 130L640 95L640 55M490 60L545 100" stroke-width="7.64"/><ellipse cx="568" cy="45" rx="8" ry="7"/>
</g>
<g transform="translate(270,590) scale(0.20000)" stroke-width="7.00"><text transform="translate(190.0,1074.0) scale(6.150,5)">51</text><text transform="translate(715.0,1079.0) scale(6.150,5)">48</text>
<text transform="translate(150.0,202.0) scale(6.150,5)">49</text>
<path d="M210 60L340 215M660 95L580 220M185 225L265 400M325 835L235 985M680 760L712 990"/>
<path d="M118 310L118 690L180 720M0 435L130 500M765 0L765 775L690 735M470 690L560 740M545 650L545 930L495 905M545 650L600 680M360 335L360 395M555 450L555 500"/>
<rect class="w" x="342.0" y="118" width="42" height="167" stroke-width="5.09"/><path d="M342.0 124L384.0 114M342.0 139L384.0 129M342.0 154L384.0 144M342.0 170L384.0 160M342.0 185L384.0 175M342.0 200L384.0 190M342.0 215L384.0 205M342.0 230L384.0 220M342.0 245L384.0 235M342.0 261L384.0 251M342.0 276L384.0 266M342.0 291L384.0 281" stroke-width="7.64"/><path d="M385 75C375 65 360 70 358 85L358 118M358 285L358 310C360 325 375 325 380 312" stroke-width="7.64"/><rect class="w" x="538.0" y="230" width="42" height="165" stroke-width="5.09"/><path d="M538.0 236L580.0 226M538.0 251L580.0 241M538.0 266L580.0 256M538.0 281L580.0 271M538.0 296L580.0 286M538.0 311L580.0 301M538.0 326L580.0 316M538.0 341L580.0 331M538.0 356L580.0 346M538.0 371L580.0 361M538.0 386L580.0 376M538.0 401L580.0 391" stroke-width="7.64"/><path d="M580 190C570 180 555 185 553 200L553 230M553 395L553 425C555 440 568 440 572 428" stroke-width="7.64"/>
<!-- 49 bracket -->
<path class="w" d="M133 530L160 485L215 432L240 420L265 408L318 380L378 408L380 440L365 465L385 490L440 505L520 505L575 530L600 550L598 585L525 615L470 640L455 660L445 700L470 715L440 718L420 700L450 630L500 600L548 560L520 548L440 548L395 535L360 510L352 480L350 440L310 420L245 445L240 490L190 545L145 552Z" stroke-width="7.64"/>
<path d="M318 380L312 418M575 530L548 560M240 420L245 445M215 432L222 470M520 505L520 548M525 615L525 660M470 640L500 600"/>
<path d="M150 520L165 497L218 446L243 433L268 421L316 394M366 412L366 440L352 468L380 500L440 517L520 517L562 538M585 560L585 580L522 604L462 632L445 655L432 695"/><ellipse cx="172" cy="525" rx="8" ry="9"/><ellipse cx="462" cy="692" rx="8" ry="10"/>
<!-- 48 -->
<path class="w" d="M630 630L675 605L700 620L700 720L680 728L670 750L650 735L615 745L605 780L580 792L555 775L560 740L600 705L640 670L635 640Z" stroke-width="7.64"/>
<path d="M630 630L660 648L700 622M660 648L665 690C660 715 640 730 615 745"/>
<ellipse cx="585" cy="765" rx="9" ry="11"/>
<!-- 51 pin -->
<path class="w" d="M194 716L485 877L472 906L181 745C176 732 182 718 194 716Z"/>
<ellipse class="w" cx="479" cy="892" rx="9" ry="16" transform="rotate(20 479 892)"/>
</g>
<g transform="translate(130,590) scale(0.20000)" stroke-width="7.00"><text transform="translate(575.0,99.0) scale(6.150,5)">52</text><text transform="translate(148.0,494.0) scale(6.150,5)">54</text><text transform="translate(278.0,594.0) scale(6.150,5)">54</text><text transform="translate(455.0,681.0) scale(6.150,5)">54</text><text transform="translate(648.0,659.0) scale(6.150,5)">47</text>
<path d="M565 115L480 275M160 415L205 250M320 515L430 400M468 600L498 425M655 580L690 450"/>
<path d="M690 0L690 325L720 340M620 382L665 405"/>
<path d="M255 218L290 200M490 370L510 358L540 362L555 350M550 395L590 375" stroke-width="5.09"/>
<!-- pin 52 -->
<path class="w" d="M268 158L616 358L604 386L256 186Z"/>
<ellipse class="w" cx="262" cy="172" rx="13" ry="19" transform="rotate(20 262 172)" stroke-width="10.18"/>
<ellipse class="w" cx="610" cy="372" rx="9" ry="15" transform="rotate(20 610 372)" stroke-width="7.64"/>
<!-- cotter pins -->
<path d="M208 244L250 222M432 400L476 378M497 424L540 402" stroke-width="12.73"/>
<ellipse cx="206" cy="246" rx="6" ry="7"/><ellipse cx="430" cy="402" rx="6" ry="7"/><ellipse cx="496" cy="426" rx="6" ry="7"/>
<!-- 47 -->
<path class="w" d="M770 292L810 266L836 284L836 375L818 390L805 412L785 408C775 395 755 395 740 402L705 432L692 452L670 445L665 420L685 390L720 360L768 328Z" stroke-width="7.64"/>
<path d="M770 292L800 306L836 284M800 306L800 350C790 370 770 385 740 402"/>
<ellipse cx="690" cy="425" rx="8" ry="10"/><ellipse cx="800" cy="388" rx="7" ry="9"/>
</g>
<g transform="translate(0,400) scale(0.20000)" stroke-width="7.00"><text transform="translate(468.0,564.0) scale(6.150,5)">44</text><text transform="translate(355.0,624.0) scale(6.150,5)">45</text><text transform="translate(550.0,769.0) scale(6.150,5)">43</text><text transform="translate(760.0,676.0) scale(6.150,5)">50</text><text transform="translate(297.0,1041.0) scale(6.150,5)">46</text>
<path d="M472 370L475 485M358 385L360 540M600 580L552 690M815 460L765 600M218 730L290 985"/>
<path d="M470 210L815 28M375 178L465 222M385 265L440 235M395 345L430 325"/>
<!-- rod 46 -->
<path d="M312 148L345 162C340 300 300 450 215 690" stroke-width="19.09"/>
<path d="M312 148L345 162C340 300 300 450 215 690" stroke="#fff" stroke-width="6.36"/>
<ellipse class="w" cx="197" cy="712" rx="14" ry="26" transform="rotate(15 197 712)" stroke-width="7.64"/>
<!-- 44 -->
<path class="w" d="M425 285L470 255L512 270L528 292L520 330L460 362L425 340Z" stroke-width="7.64"/>
<path d="M425 285L462 305L520 280M462 305L460 362M482 310L490 306L490 335L482 340Z"/>
<path d="M448 272L488 230C500 222 518 232 512 248L498 274M462 272L495 242" />
<path d="M510 275C520 265 540 268 545 280M528 292L545 285"/><ellipse cx="530" cy="292" rx="6" ry="7"/>
<!-- 45 screw -->
<ellipse class="w" cx="350" cy="372" rx="10" ry="13" stroke-width="8.91"/><path d="M362 362L368 372M370 356L376 367M378 352L384 362" stroke-width="7.64"/>
<!-- 43 spring -->
<path d="M545 300C565 310 590 310 590 335L590 378M600 515L600 575L618 558" stroke-width="7.64"/>
<ellipse class="w" cx="580" cy="395" rx="31" ry="17" stroke-width="7.64"/><ellipse class="w" cx="580" cy="417" rx="31" ry="17" stroke-width="7.64"/><ellipse class="w" cx="580" cy="439" rx="31" ry="17" stroke-width="7.64"/><ellipse class="w" cx="580" cy="461" rx="31" ry="17" stroke-width="7.64"/><ellipse class="w" cx="580" cy="483" rx="31" ry="17" stroke-width="7.64"/><ellipse class="w" cx="580" cy="505" rx="31" ry="17" stroke-width="7.64"/><ellipse cx="580" cy="395" rx="16" ry="8" stroke-width="6.36"/>
</g>
<g transform="translate(110,390) scale(0.20000)" stroke-width="7.00"><text transform="translate(520.0,399.0) scale(6.150,5)">41</text><text transform="translate(700.0,444.0) scale(6.150,5)">42</text><text transform="translate(540.0,889.0) scale(6.150,5)">54</text>
<path d="M455 185L520 315M640 455L545 515M455 705L520 800"/>
<path d="M265 72L295 55L240 25M400 110L440 135M475 160L510 180L650 95L470 0M775 0L775 350M775 380L775 775L570 655"/>
<path d="M485 678L535 652" stroke-width="5.09"/>
<!-- 42 frame -->
<!-- main tube -->
<path class="w" d="M55 243L545 512L520 556L40 290C30 270 40 248 55 243Z"/>
<ellipse class="w" cx="533" cy="534" rx="14" ry="25" transform="rotate(20 533 534)" stroke-width="7.64"/>
<path d="M62 250C50 262 48 280 55 292"/>
<!-- left diagonal tubes -->
<path class="w" d="M75 262L185 205L185 240L100 285Z"/>
<path d="M100 250L185 222" />
<!-- upper cross bar -->
<path class="w" d="M225 218L352 285L352 326L210 252C205 235 212 222 225 218Z"/>
<!-- left vertical -->
<path class="w" d="M185 88L185 300C190 340 215 350 228 330L228 88Z"/>
<path d="M185 88L185 300C190 340 215 350 228 330L228 88"/>
<path class="w" d="M180 0L190 -25L220 -32L240 -20L245 50L230 85L185 90Z" stroke-width="7.64"/><path d="M196 -5A22 28 0 1 1 205 22" stroke-width="10.18"/><ellipse cx="218" cy="-5" rx="9" ry="14"/><path d="M195 55C205 65 225 65 235 50"/>
<!-- right vertical -->
<path class="w" d="M352 180L352 440C360 470 385 480 400 470L385 290L385 180Z"/>
<path class="w" d="M352 85C360 65 395 60 405 80L405 150L385 182L352 180Z" stroke-width="7.64"/>
<ellipse cx="384" cy="106" rx="10" ry="18" stroke-width="7.64"/><path d="M362 150C372 160 392 155 400 140"/>
<!-- diagonal brace -->
<path class="w" d="M380 290C375 300 375 310 380 320L470 482L512 502L522 492L402 285Z"/>
<path d="M400 380L400 430L450 465"/>
<!-- clip 41 -->
<path d="M478 120C460 108 438 122 432 148C428 168 440 180 455 172M455 172L448 155L470 150L462 138L482 132L478 120" stroke-width="8.91"/>
<!-- pin 50 -->
<path class="w" d="M210 434L558 636L546 664L198 462Z"/>
<ellipse class="w" cx="203" cy="448" rx="10" ry="17" transform="rotate(20 203 448)" stroke-width="10.18"/>
<ellipse class="w" cx="552" cy="650" rx="9" ry="15" transform="rotate(20 552 650)" stroke-width="7.64"/>
<path d="M442 700L478 682" stroke-width="12.73"/><ellipse cx="440" cy="702" rx="6" ry="7"/>
</g>
<g transform="translate(20,880) scale(0.20000)" stroke-width="7.00"><text transform="translate(52,440) scale(5.66,5)" style="font-size:17.3px;text-anchor:start">66T0010-1180</text>
<!-- FWD arrow -->
<path class="w" d="M200 245L295 105L312 125L440 60L478 70L478 185L320 262L318 315Z" stroke-width="8.91"/>
<path d="M295 105L312 142L318 312M216 254L312 142M312 150L462 78L478 70M462 78L466 190" stroke-width="7.64"/>
<text transform="translate(316,258) matrix(1,-0.47,0,1,0,0) scale(0.56,1)" style="font-size:108px;font-weight:bold;text-anchor:start;stroke-width:2px">FWD</text>
</g>
</svg>
</body></html>
